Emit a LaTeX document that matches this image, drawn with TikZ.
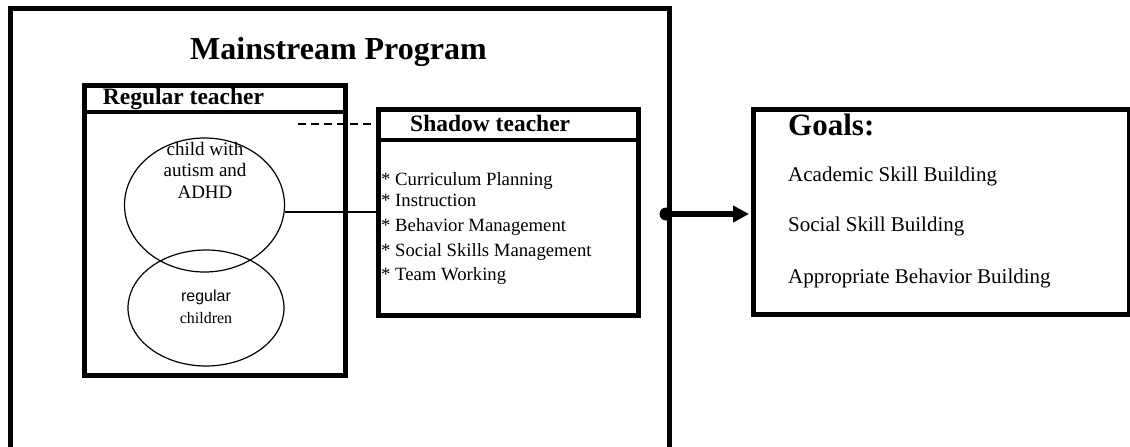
\documentclass[tikz,border=0pt]{standalone}
\usepackage{fontspec}
\setmainfont{Liberation Serif}
\newfontfamily\arialf{Liberation Sans}
\usetikzlibrary{shapes.geometric,arrows.meta}
\tikzset{
  box/.style={draw, line width=4.5pt, rectangle, inner sep=0pt, anchor=north west},
  oval/.style={draw, line width=1.2pt, ellipse, inner sep=0pt},
  txt/.style={inner sep=0pt, anchor=base west},
  ctxt/.style={inner sep=0pt, anchor=base},
  conn/.style={line width=2.5pt},
}
\begin{document}
\begin{tikzpicture}[x=1pt,y=-1pt]
\useasboundingbox (0,0) rectangle (1130,447);
% outer frame (open at bottom)
\coordinate (obl) at (10,449);
\coordinate (otl) at (10,8.5);
\coordinate (otr) at (669.5,8.5);
\coordinate (obr) at (669.5,449);
\draw[line width=5pt] (obl) -- (otl) -- (otr) -- (obr);
\node[txt, font=\bfseries\fontsize{32}{36}\selectfont] (title) at (190,59) {Mainstream Program};
% regular teacher box
\node[box, minimum width=261pt, minimum height=290pt] (reg) at (82,83) {};
\coordinate (regh) at (82,112);
\draw[line width=4.5pt] (regh) -- (regh -| reg.east);
\node[txt, font=\bfseries\fontsize{23.5}{26}\selectfont] (regt) at (102.7,104) {Regular teacher};
% ellipses
\node[oval, minimum width=160pt, minimum height=134pt] (e1) at (204.5,205) {};
\node[oval, minimum width=156pt, minimum height=116pt] (e2) at (206,308) {};
\node[ctxt, font=\fontsize{19}{21}\selectfont] (e1a) at (205,155) {child with};
\node[ctxt, font=\fontsize{19}{21}\selectfont] (e1b) at (205,176.7) {autism and};
\node[ctxt, font=\fontsize{19}{21}\selectfont] (e1c) at (205,198) {ADHD};
\node[ctxt, font=\arialf\fontsize{16}{18}\selectfont] (e2a) at (206,301.7) {regular};
\node[ctxt, font=\fontsize{16}{18}\selectfont] (e2b) at (206,323) {children};
% shadow teacher box
\node[box, minimum width=260pt, minimum height=206pt] (sh) at (376,107) {};
\coordinate (shh) at (376,140);
\draw[line width=4.5pt] (shh) -- (shh -| sh.east);
\node[txt, font=\bfseries\fontsize{23.5}{26}\selectfont] (sht) at (410,131) {Shadow teacher};
\node[txt, font=\fontsize{18.7}{21}\selectfont] (s1) at (381,185) {* Curriculum Planning};
\node[txt, font=\fontsize{18.7}{21}\selectfont] (s2) at (381,206.7) {* Instruction};
\node[txt, font=\fontsize{18.7}{21}\selectfont] (s3) at (381,231.7) {* Behavior Management};
\node[txt, font=\fontsize{18.7}{21}\selectfont] (s4) at (381,256.7) {* Social Skills Management};
\node[txt, font=\fontsize{18.7}{21}\selectfont] (s5) at (381,280) {* Team Working};
% connectors
\coordinate (dstart) at (298,124);
\draw[conn, dash pattern=on 8pt off 5pt] (dstart) -- (dstart -| sh.west);
\draw[conn] (e1.-5.75) -- (e1.-5.75 -| sh.west);
% goals box
\node[box, minimum width=376pt, minimum height=205pt] (goals) at (751,107) {};
\node[txt, font=\bfseries\fontsize{31}{34}\selectfont] (gt) at (788,135) {Goals:};
\node[txt, font=\fontsize{21}{24}\selectfont] (g1) at (788,181.7) {Academic Skill Building};
\node[txt, font=\fontsize{21}{24}\selectfont] (g2) at (788,231.7) {Social Skill Building};
\node[txt, font=\fontsize{21}{24}\selectfont] (g3) at (788,283) {Appropriate Behavior Building};
% arrow
\node[circle, fill, inner sep=0pt, minimum size=13pt] (dot) at (666,214) {};
\draw[line width=6pt, -{Triangle[length=16pt 0 0, width=16pt 0 0]}, shorten >=2pt] (dot.center) -- (dot -| goals.west);
\end{tikzpicture}
\end{document}
